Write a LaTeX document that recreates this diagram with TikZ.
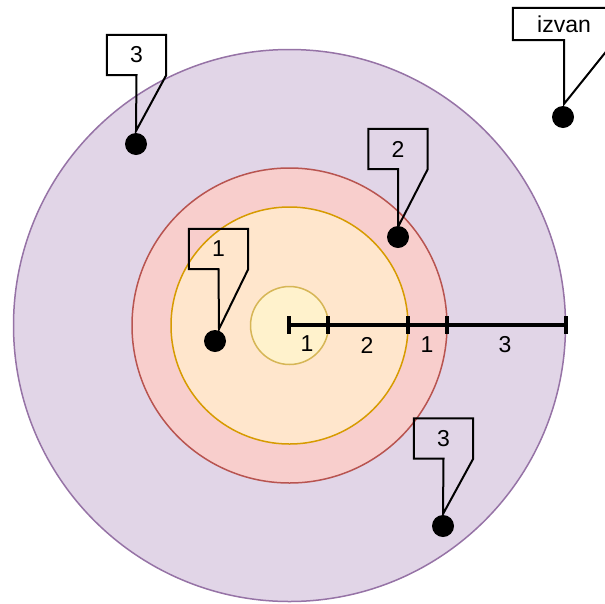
\documentclass[tikz,border=0pt]{standalone}
\usepackage{fontspec}
\setmainfont{Liberation Sans}
\definecolor{purplefill}{HTML}{E1D5E7}
\definecolor{purpleline}{HTML}{9673A6}
\definecolor{redfill}{HTML}{F8CECC}
\definecolor{redline}{HTML}{B85450}
\definecolor{orangefill}{HTML}{FFE6CC}
\definecolor{orangeline}{HTML}{D79B00}
\definecolor{yellowfill}{HTML}{FFF2CC}
\definecolor{yellowline}{HTML}{D6B656}
\begin{document}
\begin{tikzpicture}[x=1pt,y=-1pt,
	ring/.style={line width=1.5pt},
	dot/.style={circle,fill=black,inner sep=0pt,minimum size=22pt},
	box/.style={inner sep=0pt,minimum width=59pt,minimum height=40pt,font=\fontsize{23}{27}\selectfont},
	callout/.style={draw=black,line width=2pt,line join=miter},
	ruler/.style={line width=3.5pt},
	num/.style={inner sep=0pt,font=\fontsize{23}{27}\selectfont}]
		\useasboundingbox (0,0) rectangle (605,603);
		\coordinate (o) at (289.5,325.5);

		% rings
		\draw [ring, draw=purpleline, fill=purplefill] (o) circle (276pt);
		\draw [ring, draw=redline, fill=redfill] (o) circle (157.5pt);
		\draw [ring, draw=orangeline, fill=orangefill] (o) circle (118.5pt);
		\draw [ring, draw=yellowline, fill=yellowfill] (o) circle (39pt);

		% ruler
		\coordinate (r0) at (289,325);
		\coordinate (r1) at (328,325);
		\coordinate (r2) at (408,325);
		\coordinate (r3) at (447,325);
		\coordinate (r4) at (566,325);
		\draw [ruler] (r0) -- (r4);
		\foreach \r in {r0,r1,r2,r3,r4}
			\draw [ruler] (\r) ++(0,-9) -- ++(0,18);
		\node [num] (w1) at (307,344) {1};
		\node [num] (w2) at (367,345) {2};
		\node [num] (w3) at (427,345) {1};
		\node [num] (w4) at (505,345) {3};

		% callout boxes
		\node [box] (bA) at (136.5,55) {3};
		\node [box, minimum width=102pt, minimum height=32pt] (bZ) at (564,24) {izvan};
		\node [box] (bB) at (398,149) {2};
		\node [box, text depth=-3pt] (bC) at (218.5,249) {1};
		\node [box] (bD) at (443.5,438.5) {3};

		% tips of the tails
		\coordinate (tA) at (136,131);
		\coordinate (tZ) at (564,104);
		\coordinate (tB) at (398,227);
		\coordinate (tC) at (219,329);
		\coordinate (tD) at (443,514);

		\foreach \b/\t in {bA/tA,bZ/tZ,bB/tB,bC/tC,bD/tD}
			\draw [callout] (\b.north west) -- (\b.north east) -- (\b.south east)
				-- (\t) -- (\b.south) -- (\b.south west) -- cycle;

		% points
		\node [dot] (pA) at (136,144) {};
		\node [dot] (pZ) at (563,117) {};
		\node [dot] (pB) at (398,237) {};
		\node [dot] (pC) at (215,341) {};
		\node [dot] (pD) at (443,526) {};
	\end{tikzpicture}
\end{document}
